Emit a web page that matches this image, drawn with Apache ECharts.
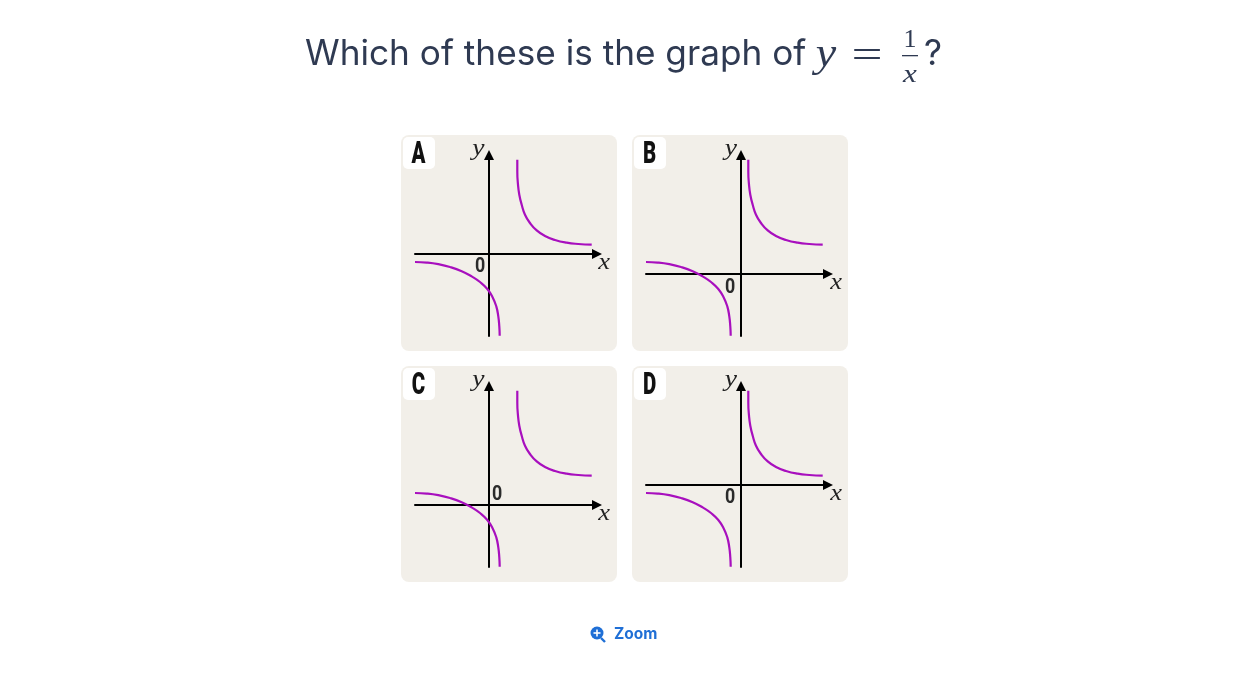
<!DOCTYPE html>
<html><head><meta charset="utf-8">
<style>html,body{margin:0;padding:0;background:#fff}#c{width:1247px;height:691px}</style>
<script src="https://cdn.jsdelivr.net/npm/echarts@6/dist/echarts.min.js"></script>
</head><body><div id="c"></div>
<script>
const panelNames = ['A','B','C','D'];
const questionText = 'Which of these is the graph of';
const zoomText = 'Zoom';
// curve readings, in picture units measured from each panel's own origin
const upperA = [[28.3,94.3],[28.3,82.6],[29,69.3],[30.3,59.3],[32.7,49.3],[36,39.3],[41,31],[47.7,23.6],[56,18],[66,14],[77.7,11.3],[89.3,10],[102.7,9.3]];
const lowerA = [[-74,-8],[-62.3,-8.6],[-50.7,-10.2],[-39,-13],[-27.3,-17.2],[-17.3,-22.4],[-9,-28],[-1.7,-35],[3.7,-43.4],[7.3,-52.4],[9.3,-62.4],[10.3,-72.4],[10.7,-81.7]];
const upperB = [[7.3,114.3],[7.3,102.6],[8,89.3],[9.3,79.3],[11.7,69.3],[15,59.3],[20,51],[26.7,43.6],[35,38],[45,34],[56.7,31.3],[68.3,30],[81.7,29.3]];
const lowerB = [[-95,12],[-83.3,11.4],[-71.7,9.8],[-60,7],[-48.3,2.8],[-38.3,-2.4],[-30,-8],[-22.7,-15],[-17.3,-23.4],[-13.7,-32.4],[-11.7,-42.4],[-10.7,-52.4],[-10.3,-61.7]];
const upperC = [[28.3,114.3],[28.3,102.6],[29,89.3],[30.3,79.3],[32.7,69.3],[36,59.3],[41,51],[47.7,43.6],[56,38],[66,34],[77.7,31.3],[89.3,30],[102.7,29.3]];
const lowerC = [[-74,12],[-62.3,11.4],[-50.7,9.8],[-39,7],[-27.3,2.8],[-17.3,-2.4],[-9,-8],[-1.7,-15],[3.7,-23.4],[7.3,-32.4],[9.3,-42.4],[10.3,-52.4],[10.7,-61.7]];
const upperD = [[7.3,94.3],[7.3,82.6],[8,69.3],[9.3,59.3],[11.7,49.3],[15,39.3],[20,31],[26.7,23.6],[35,18],[45,14],[56.7,11.3],[68.3,10],[81.7,9.3]];
const lowerD = [[-95,-8],[-83.3,-8.6],[-71.7,-10.2],[-60,-13],[-48.3,-17.2],[-38.3,-22.4],[-30,-28],[-22.7,-35],[-17.3,-43.4],[-13.7,-52.4],[-11.7,-62.4],[-10.7,-72.4],[-10.3,-81.7]];
const upperBranches = [upperA, upperB, upperC, upperD];
const lowerBranches = [lowerA, lowerB, lowerC, lowerD];
// axis extents per panel
const xMin = [-74,-95,-74,-95], xMax = [108,87,108,87];
const yMin = [-82,-62,-62,-82], yMax = [99,119,119,99];

const panelLeft = [401,632,401,632], panelTop = [135,135,366,366];
const zeroPos = [[79,132],[98,152.5],[96,128.5],[98,132]];
const yPos = [[77.5,14],[99,14],[77.5,14],[99,14]];
const xPos = [[203,128],[204,148],[203,148],[204,128]];
const curve = '#a80fbe', ink = '#2f3a52', blue = '#1f6fd6';

const grids=[],xs=[],ys=[],series=[],gfx=[];
panelNames.forEach((name,i)=>{
  const L=panelLeft[i],T=panelTop[i];
  grids.push({left:L+14,top:T+20,width:182,height:181});
  const axisCommon={type:'value',splitLine:{show:false},axisTick:{show:false},axisLabel:{show:false},gridIndex:i};
  const line={onZero:true,symbol:['none','triangle'],symbolSize:[10,10],lineStyle:{color:'#000',width:2}};
  xs.push({...axisCommon,min:xMin[i],max:xMax[i],axisLine:line});
  ys.push({...axisCommon,min:yMin[i],max:yMax[i],axisLine:line});
  [upperBranches[i],lowerBranches[i]].forEach(d=>series.push({type:'line',xAxisIndex:i,yAxisIndex:i,data:d,showSymbol:false,smooth:0.5,clip:false,lineStyle:{color:curve,width:2.2},z:3}));
  gfx.push({type:'rect',z:-2,shape:{x:L,y:T,width:216,height:216,r:8},style:{fill:'#f2efe9'}});
  gfx.push({type:'rect',z:5,shape:{x:L+2,y:T+2,width:32,height:32,r:5},style:{fill:'#fff'}});
  gfx.push({type:'text',z:6,x:L+17.5,y:T+20,scaleX:0.66,style:{text:name,fill:'#111',font:'900 31px Roboto',textAlign:'center',textVerticalAlign:'middle'}});
  gfx.push({type:'text',z:6,x:L+zeroPos[i][0],y:T+zeroPos[i][1],scaleX:0.85,style:{text:'0',fill:'#2b2b2b',font:'bold 21px Roboto',textAlign:'center',textVerticalAlign:'middle'}});
  gfx.push({type:'text',z:6,x:L+yPos[i][0],y:T+yPos[i][1],scaleX:1.2,style:{text:'y',fill:'#222',font:'italic 23px "Liberation Serif"',textAlign:'center',textVerticalAlign:'middle'}});
  gfx.push({type:'text',z:6,x:L+xPos[i][0],y:T+xPos[i][1],scaleX:1.15,style:{text:'x',fill:'#222',font:'italic 23px "Liberation Serif"',textAlign:'center',textVerticalAlign:'middle'}});
});
const t=(s,x,y,font,c,al,sx)=>({type:'text',z:6,x,y,scaleX:sx||1,style:{text:s,fill:c,font,textAlign:al||'left',textVerticalAlign:'middle'}});
gfx.push(t(questionText,305,54,'35.2px Inter',ink));
gfx.push(t('y',826,55,'italic 40px "Liberation Serif"',ink,'center',1.15));
gfx.push(t('=',867,57,'38px "Liberation Serif"',ink,'center',1.45));
gfx.push(t('1',910,40,'26px "Liberation Serif"',ink,'center'));
gfx.push({type:'rect',z:6,shape:{x:902,y:55,width:16,height:1.3},style:{fill:ink}});
gfx.push(t('x',910,75,'italic 26px "Liberation Serif"',ink,'center',1.2));
gfx.push(t('?',933,54,'35.2px Inter',ink,'center'));
gfx.push({type:'circle',z:6,shape:{cx:597,cy:633,r:6.5},style:{fill:blue}});
gfx.push({type:'line',z:6,shape:{x1:601,y1:638,x2:605,y2:642},style:{stroke:blue,lineWidth:2.4}});
gfx.push({type:'line',z:7,shape:{x1:593.5,y1:633,x2:600.5,y2:633},style:{stroke:'#fff',lineWidth:1.6}});
gfx.push({type:'line',z:7,shape:{x1:597,y1:629.5,x2:597,y2:636.5},style:{stroke:'#fff',lineWidth:1.6}});
gfx.push(t(zoomText,614,634.5,'bold 15.5px Inter',blue));

const chart=echarts.init(document.getElementById('c'),null,{renderer:'canvas'});
chart.setOption({animation:false,backgroundColor:'#fff',grid:grids,xAxis:xs,yAxis:ys,series,graphic:{elements:gfx}});
</script></body></html>
